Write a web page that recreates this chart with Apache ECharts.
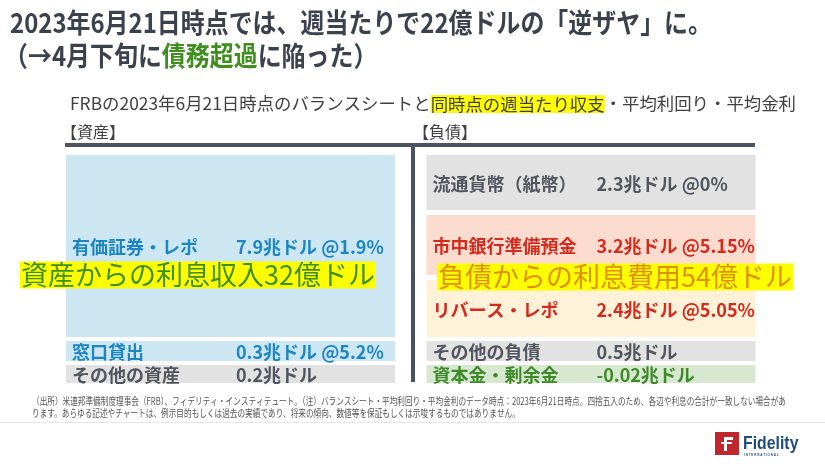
<!DOCTYPE html>
<html><head><meta charset="utf-8">
<script src="https://cdn.jsdelivr.net/npm/echarts@6/dist/echarts.min.js"></script>
<style>html,body{margin:0;padding:0;background:#fff}#chart{width:825px;height:464px}</style>
</head><body><div id="chart"></div>
<script>
// ---------------- data ----------------
const asOfDate = '2023年6月21日';
const columns = ['資産', '負債'];
const assetNames = ['有価証券・レポ', '窓口貸出', 'その他の資産'];
const assetAmounts = [7.9, 0.3, 0.2];          // 兆ドル
const assetRates = [1.9, 5.2, null];           // %
const liabilityNames = ['流通貨幣（紙幣）', '市中銀行準備預金', 'リバース・レポ', 'その他の負債', '資本金・剰余金'];
const liabilityAmounts = [2.3, 3.2, 2.4, 0.5, -0.02]; // 兆ドル
const liabilityRates = [0, 5.15, 5.05, null, null];   // %
const weeklyIncome = 32;   // 億ドル
const weeklyExpense = 54;  // 億ドル
const weeklySpread = 22;   // 億ドル

// ---------------- layout / style (schematic, not to scale) ----------------
const assetSpans = [[0, 79.8], [81.6, 90.4], [92.1, 100]];
const liabilitySpans = [[0, 24.1], [26.3, 52.6], [54.8, 79.8], [81.6, 90.4], [92.1, 100]];
const assetFill = ['#cce6f2', '#cce6f2', '#e2e2e2'];
const assetText = ['#1d86c1', '#1d86c1', '#50555e'];
const liabilityFill = ['#e2e2e2', '#fcdccf', '#fff2d9', '#e2e2e2', '#d8e8d0'];
const liabilityText = ['#50555e', '#d52a1e', '#d52a1e', '#50555e', '#3e8a2a'];

const JP = "'Noto Sans CJK JP', 'Noto Sans', sans-serif";
const BOX_FRAC = 0.9126;
const LABEL_FONT = 'bold 18px ' + JP;

function fitScale(text, font, target) {
  const c = document.createElement('canvas').getContext('2d');
  c.font = font;
  return target / c.measureText(text).width;
}
function valueText(amount, rate) {
  return amount + '兆ドル' + (rate === null ? '' : ' @' + rate + '%');
}

const boxData = [];
assetNames.forEach((n, i) => boxData.push({ value: [0, assetSpans[i][0], assetSpans[i][1], i],
  name: n, label2: valueText(assetAmounts[i], assetRates[i]), fill: assetFill[i], color: assetText[i] }));
liabilityNames.forEach((n, i) => boxData.push({ value: [1, liabilitySpans[i][0], liabilitySpans[i][1], i],
  name: n, label2: valueText(liabilityAmounts[i], liabilityRates[i]), fill: liabilityFill[i], color: liabilityText[i] }));

const titleFont = 'bold 27px ' + JP;
const title1 = asOfDate + '時点では、週当たりで' + weeklySpread + '億ドルの「逆ザヤ」に。';
const titleScale = fitScale(title1, titleFont, 702);
const subFont = '17px ' + JP;
const subPlain = 'FRBの' + asOfDate + '時点のバランスシートと同時点の週当たり収支・平均利回り・平均金利';
const subScale = fitScale(subPlain, subFont, 726);
const noteFont = '10px ' + JP;
const note1 = '（出所）米連邦準備制度理事会（FRB）、フィデリティ・インスティテュート。（注）バランスシート・平均利回り・平均金利のデータ時点：2023年6月21日時点。四捨五入のため、各辺や利息の合計が一致しない場合があ';
const note2 = 'ります。あらゆる記述やチャートは、例示目的もしくは過去の実績であり、将来の傾向、数値等を保証もしくは示唆するものではありません。';
const noteScale = fitScale(note1, noteFont, 754);

const chart = echarts.init(document.getElementById('chart'), null, { renderer: 'canvas' });
chart.setOption({
  backgroundColor: '#ffffff',
  animation: false,
  grid: { left: 50.25, width: 721, top: 155, height: 228 },
  xAxis: { type: 'category', data: columns, show: false },
  yAxis: { type: 'value', min: 0, max: 100, inverse: true, show: false },
  series: [{
    type: 'custom',
    data: boxData,
    renderItem: function (params, api) {
      const d = boxData[params.dataIndex];
      const p0 = api.coord([api.value(0), api.value(1)]);
      const p1 = api.coord([api.value(0), api.value(2)]);
      const bw = api.size([1, 0])[0] * BOX_FRAC;
      const left = p0[0] - bw / 2;
      const top = p0[1], h = p1[1] - p0[1];
      const cy = top + h / 2 + 1.5;
      return { type: 'group', children: [
        { type: 'rect', shape: { x: left, y: top, width: bw, height: h }, style: { fill: d.fill } },
        { type: 'text', x: left + 6, y: cy, style: { text: d.name, font: LABEL_FONT, fill: d.color, verticalAlign: 'middle', align: 'left' } },
        { type: 'text', x: left + 170, y: cy, style: { text: d.label2, font: LABEL_FONT, fill: d.color, verticalAlign: 'middle', align: 'left' } }
      ] };
    }
  }],
  graphic: [
    { type: 'text', x: 10, y: 23, scaleX: titleScale, z: 10,
      style: { text: title1, font: titleFont, fill: '#3c424d', verticalAlign: 'middle', align: 'left' } },
    { type: 'text', x: 4, y: 56, scaleX: titleScale, z: 10,
      style: { text: '（→4月下旬に{g|債務超過}に陥った）', font: titleFont, fill: '#3c424d', verticalAlign: 'middle', align: 'left',
        rich: { g: { fill: '#3f8f1f', font: titleFont } } } },
    { type: 'text', x: 70, y: 104, scaleX: subScale, z: 10,
      style: { text: 'FRBの' + asOfDate + '時点のバランスシートと{h|同時点の週当たり収支}・平均利回り・平均金利', font: subFont, fill: '#404040',
        verticalAlign: 'middle', align: 'left', rich: { h: { font: subFont, fill: '#404040', backgroundColor: '#ffff00', padding: [1, 0, 0, 0] } } } },
    { type: 'text', x: 61, y: 132, z: 10, style: { text: '【' + columns[0] + '】', font: '16px ' + JP, fill: '#404040', verticalAlign: 'middle' } },
    { type: 'text', x: 413, y: 132, z: 10, style: { text: '【' + columns[1] + '】', font: '16px ' + JP, fill: '#404040', verticalAlign: 'middle' } },
    { type: 'rect', z: 10, shape: { x: 65, y: 143, width: 690, height: 4 }, style: { fill: '#4b5362' } },
    { type: 'rect', z: 10, shape: { x: 411, y: 143, width: 4, height: 239 }, style: { fill: '#4b5362' } },
    { type: 'text', x: 20, y: 275, z: 20,
      style: { text: '資産からの利息収入' + weeklyIncome + '億ドル', font: '27px ' + JP, fill: '#3f8f1f', backgroundColor: '#ffff00',
        verticalAlign: 'middle', align: 'left', padding: [0, 1, 0, 1] } },
    { type: 'text', x: 437, y: 277, z: 20,
      style: { text: '負債からの利息費用' + weeklyExpense + '億ドル', font: '27px ' + JP, fill: '#e39000', backgroundColor: '#ffff00',
        verticalAlign: 'middle', align: 'left', padding: [0, 1, 0, 1] } },
    { type: 'text', x: 32, y: 401, scaleX: noteScale, z: 10, style: { text: note1, font: noteFont, fill: '#555555', verticalAlign: 'middle' } },
    { type: 'text', x: 32, y: 413, scaleX: noteScale, z: 10, style: { text: note2, font: noteFont, fill: '#555555', verticalAlign: 'middle' } },
    { type: 'rect', z: 10, shape: { x: 0, y: 422, width: 825, height: 1 }, style: { fill: '#e6e6e6' } },
    { type: 'rect', z: 10, shape: { x: 715, y: 432, width: 24, height: 23 }, style: { fill: '#c0272d' } },
    { type: 'rect', z: 11, shape: { x: 724, y: 437, width: 3, height: 14 }, style: { fill: '#ffffff' } },
    { type: 'rect', z: 11, shape: { x: 724, y: 437, width: 9, height: 3 }, style: { fill: '#ffffff' } },
    { type: 'rect', z: 11, shape: { x: 721, y: 442, width: 11, height: 2 }, style: { fill: '#ffffff' } },
    { type: 'text', x: 743, y: 444, scaleX: 0.88, z: 10, style: { text: 'Fidelity', font: 'bold 18px "Liberation Sans", Arial, sans-serif', fill: '#1f4c7c', verticalAlign: 'middle' } },
    { type: 'text', x: 744, y: 455, z: 10, style: { text: 'I N T E R N A T I O N A L', font: 'bold 3px "Liberation Sans", sans-serif', fill: '#1f4c7c', verticalAlign: 'middle' } }
  ]
});
</script></body></html>
